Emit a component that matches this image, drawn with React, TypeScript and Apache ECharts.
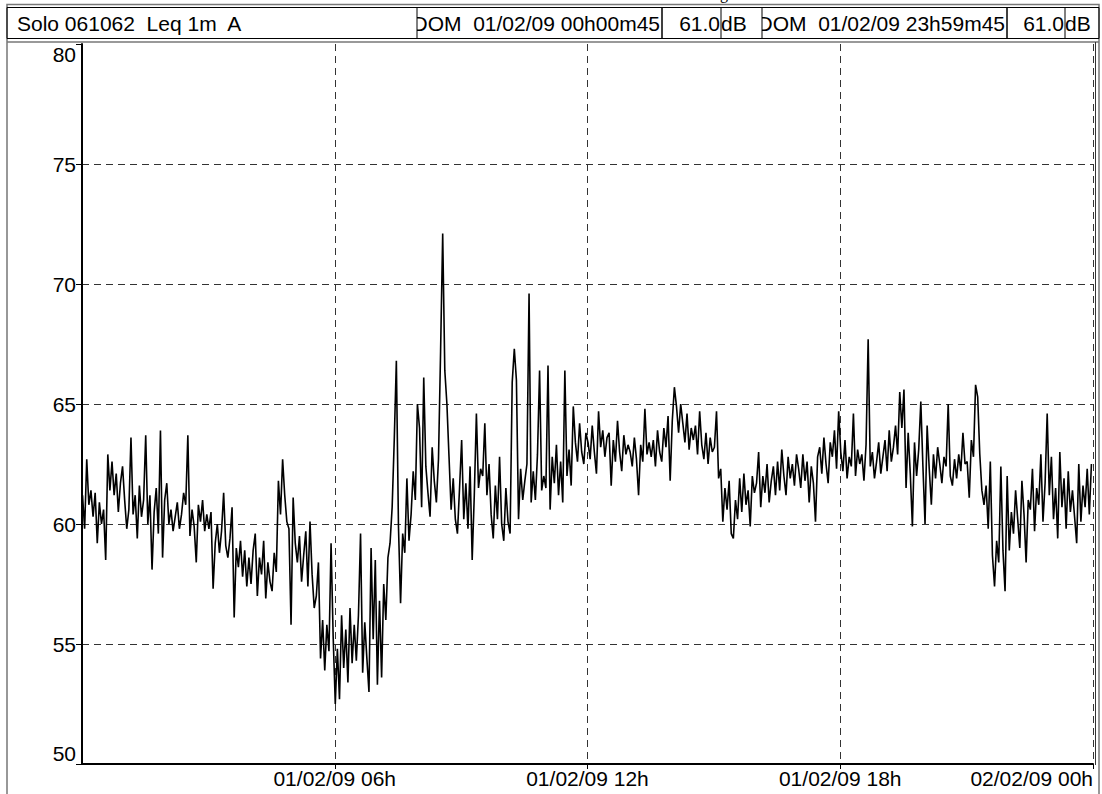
import React, { useEffect, useRef } from "react";
import * as echarts from "echarts";

// ---- Data: Leq 1m A levels (dB), one value every 3 minutes from 00h00m45 ----
const START_MIN = 0.75;
const STEP_MIN = 3;

const night00to06 = [
  61.2, 59.8, 62.7, 60.8, 61.4, 60.3, 61.3, 59.2, 60.9, 60.0,
  60.6, 58.5, 62.9, 61.4, 62.6, 61.2, 62.1, 60.5, 61.7, 62.4,
  61.0, 59.8, 60.6, 63.6, 60.4, 61.2, 59.4, 61.6, 60.3, 61.0,
  63.7, 60.0, 61.2, 58.1, 60.5, 61.5, 59.6, 63.9, 58.6, 61.0,
  61.7, 60.0, 60.6, 59.7, 60.3, 60.9, 59.8, 60.4, 61.3, 60.8,
  63.7, 59.5, 60.6, 59.9, 58.4, 60.8, 60.1, 61.0, 59.7, 60.4,
  59.8, 60.5, 57.3, 59.2, 60.0, 58.8, 59.7, 61.3, 59.1, 58.6,
  59.4, 60.7, 56.1, 59.0, 58.2, 59.3, 57.8, 58.9, 57.4, 58.6,
  57.5, 58.9, 59.6, 57.0, 58.6, 57.9, 59.3, 56.9, 58.4, 57.6,
  57.2, 58.8, 58.0, 61.8, 60.4, 62.7, 61.2, 60.1, 59.8, 55.8,
  61.1, 59.2, 58.4, 59.5, 57.6, 58.7, 59.7, 57.4, 60.1, 57.9,
  56.5, 57.0, 58.4, 54.4, 56.0, 53.9, 55.8, 54.7, 59.2, 55.3,
];

const morning06to12 = [
  52.5, 54.8, 52.7, 56.2, 54.0, 55.6, 53.4, 56.5, 54.2, 55.8,
  54.3, 56.2, 59.6, 53.8, 55.9, 54.4, 53.0, 59.0, 55.2, 58.5,
  53.3, 56.8, 53.6, 57.5, 56.0, 58.6, 59.2, 60.7, 63.5, 66.8,
  59.9, 56.7, 59.6, 58.8, 61.9, 59.3, 60.4, 62.2, 61.0, 65.0,
  64.0, 60.7, 66.1, 62.4, 61.3, 60.3, 63.2, 61.8, 60.9, 62.7,
  67.2, 72.1, 66.4, 65.0, 62.8, 60.6, 61.9, 60.2, 59.6, 61.5,
  63.5, 60.2, 61.7, 59.8, 62.4, 58.5, 61.2, 64.6, 61.5, 62.3,
  62.0, 64.2, 61.2, 62.5, 60.4, 59.4, 61.6, 60.2, 62.8, 60.0,
  59.3, 61.5, 60.1, 59.6, 65.9, 67.3, 66.0, 60.2, 62.3, 61.0,
  61.8, 62.5, 69.6, 60.9, 62.2, 61.0, 62.9, 66.4, 61.4, 62.0,
  61.5, 66.6, 60.6, 62.8, 61.7, 63.3, 61.2, 62.6, 60.9, 66.4,
  62.0, 63.1, 61.6, 64.9, 63.4, 62.6, 64.2, 63.0, 62.5, 63.8,
];

const afternoon12to18 = [
  63.4, 62.7, 64.1, 63.0, 62.1, 64.7, 63.2, 63.9, 62.8, 63.6,
  63.8, 61.6, 63.5, 62.6, 64.3, 63.0, 62.2, 63.7, 62.9, 63.3,
  63.0, 62.4, 63.6, 62.7, 61.2, 63.3, 62.6, 64.8, 62.9, 63.4,
  62.8, 63.5, 62.4, 63.9, 63.0, 62.6, 64.0, 63.2, 64.5, 61.8,
  64.3, 65.7, 64.9, 63.8, 65.0, 64.2, 63.4, 64.6, 63.1, 64.0,
  63.5, 64.1, 62.9, 64.7, 63.3, 62.7, 63.8, 62.5, 63.6, 63.0,
  63.2, 64.7, 61.9, 62.3, 60.1, 61.5, 60.6, 61.8, 59.6, 59.4,
  61.0, 60.2, 61.9, 60.5, 62.1, 60.8, 61.4, 59.9, 62.0, 61.3,
  61.7, 63.0, 60.7, 62.0, 61.3, 62.5, 60.9, 61.8, 62.4, 61.2,
  62.6, 61.4, 63.1, 62.0, 61.2, 62.8, 61.9, 62.5, 61.6, 62.9,
  62.3, 61.5, 62.9, 61.8, 62.6, 60.9, 62.4, 61.7, 60.1, 62.8,
  63.2, 62.1, 63.6, 62.5, 61.7, 63.4, 62.8, 63.9, 62.3, 64.7,
];

const evening18to24 = [
  63.0, 62.2, 63.5, 61.9, 62.8, 62.4, 64.6, 62.0, 63.1, 62.5,
  62.9, 61.8, 63.3, 67.7, 62.4, 63.0, 61.9, 62.6, 63.4, 62.1,
  62.8, 63.5, 62.2, 63.9, 62.6, 63.2, 64.1, 62.9, 65.5, 64.0,
  65.6, 61.5, 63.8, 62.1, 59.9, 63.4, 62.0, 63.1, 65.1, 62.4,
  60.0, 64.1, 62.3, 60.8, 62.9, 61.9, 63.2, 62.5, 61.7, 62.8,
  62.4, 65.0, 62.0, 61.6, 62.7, 61.9, 62.9, 62.2, 63.8, 62.5,
  62.6, 61.1, 63.5, 62.8, 65.8, 65.3, 62.9, 61.4, 60.8, 61.6,
  59.8, 62.6, 58.7, 57.4, 59.3, 58.4, 62.4, 58.9, 57.2, 62.0,
  58.9, 60.5, 59.6, 61.4, 60.2, 59.0, 61.8, 60.4, 58.4, 61.0,
  60.6, 62.3, 59.7, 61.5, 60.8, 62.9, 60.1, 61.7, 64.6, 61.2,
  62.8, 60.2, 61.5, 59.4, 63.0, 60.7, 61.9, 59.8, 62.2, 60.5,
  61.4, 60.3, 59.2, 62.5, 60.1, 61.6, 60.7, 62.3, 60.4, 62.5,
];

// x tick labels (minutes from 01/02/09 00h)
const xTickMinutes = [360, 720, 1080, 1440];
const xTickLabels = ["01/02/09 06h", "01/02/09 12h", "01/02/09 18h", "02/02/09 00h"];

// header texts
const headerTitle = "Solo 061062  Leq 1m  A";
const startStamp = "DOM  01/02/09 00h00m45";
const startLevel = "61.0";
const endStamp = "DOM  01/02/09 23h59m45";
const endLevel = "61.0";
const unit = "dB";

const FONT = '"Liberation Sans", Arial, Helvetica, sans-serif';

export default function App() {
  const ref = useRef<HTMLDivElement>(null);

  useEffect(() => {
    if (!ref.current) return;
    const chart = echarts.init(ref.current, undefined, { renderer: "svg" });
    const levels = [...night00to06, ...morning06to12, ...afternoon12to18, ...evening18to24];
    const data = levels.map((v, i) => [START_MIN + i * STEP_MIN, v]);

    const txt = (text: string, x: number, align: string) => ({
      type: "text",
      x,
      y: 23.5,
      z: 10,
      style: { text, fill: "#000", fontSize: 21, fontFamily: FONT, align, verticalAlign: "middle" },
    });
    const box = (x1: number, x2: number) => ({
      type: "rect",
      z: 12,
      shape: { x: x1, y: 7.5, width: x2 - x1, height: 31 },
      style: { fill: "none", stroke: "#000", lineWidth: 1 },
    });
    const cover = (x1: number, x2: number) => ({
      type: "rect",
      z: 11,
      shape: { x: x1, y: 8, width: x2 - x1, height: 30 },
      style: { fill: "#fff" },
    });

    chart.setOption({
      animation: false,
      backgroundColor: "#fff",
      grid: { left: 82, right: 9, top: 44, bottom: 30, containLabel: false },
      xAxis: {
        type: "value",
        min: 0,
        max: 1440,
        interval: 360,
        axisLine: { show: true, onZero: false, lineStyle: { color: "#000", width: 2 } },
        axisTick: { show: true, length: 5, lineStyle: { color: "#000", width: 1 } },
        axisLabel: {
          show: true,
          showMinLabel: false,
          alignMaxLabel: "right",
          color: "#000",
          fontSize: 21,
          fontFamily: FONT,
          margin: 4,
          formatter: (v: number) => {
            const k = xTickMinutes.indexOf(v);
            return k >= 0 ? xTickLabels[k] : "";
          },
        },
        splitLine: {
          show: true,
          showMinLine: false,
          lineStyle: { color: "#333", width: 1, type: [7, 5] },
        },
      },
      yAxis: {
        type: "value",
        min: 50,
        max: 80,
        interval: 5,
        axisLine: { show: true, onZero: false, lineStyle: { color: "#000", width: 2 } },
        axisTick: { show: true, length: 6, lineStyle: { color: "#000", width: 1 } },
        axisLabel: {
          color: "#000",
          fontSize: 21,
          fontFamily: FONT,
          margin: 6,
          verticalAlignMinLabel: "bottom",
          verticalAlignMaxLabel: "top",
        },
        splitLine: {
          show: true,
          showMinLine: false,
          showMaxLine: false,
          lineStyle: { color: "#333", width: 1, type: [7, 5] },
        },
      },
      series: [
        {
          type: "line",
          data,
          showSymbol: false,
          symbol: "none",
          lineStyle: { color: "#000", width: 1.6 },
          z: 5,
        },
      ],
      graphic: [
        // outer frame
        {
          type: "rect",
          z: 1,
          shape: { x: 7, y: 4.5, width: 1092, height: 800 },
          style: { fill: "none", stroke: "#777", lineWidth: 1.5 },
        },
        // plot frame top / right
        {
          type: "line",
          z: 1,
          shape: { x1: 7, y1: 42, x2: 1099, y2: 42 },
          style: { stroke: "#777", lineWidth: 1.5 },
        },
        {
          type: "line",
          z: 1,
          shape: { x1: 1095.5, y1: 42, x2: 1095.5, y2: 765 },
          style: { stroke: "#333", lineWidth: 1 },
        },
        // partial title descender above the page
        {
          type: "text",
          x: 724,
          y: -6.5,
          z: 10,
          style: { text: "g", fill: "#000", fontSize: 16, fontFamily: "Liberation Serif, serif", align: "center", verticalAlign: "middle" },
        },
        txt(headerTitle, 17, "left"),
        txt(startStamp, 660, "right"),
        txt(startLevel, 720, "right"),
        txt(unit, 721, "left"),
        txt(endStamp, 1005, "right"),
        txt(endLevel, 1064, "right"),
        txt(unit, 1065, "left"),
        cover(380, 417),
        cover(749, 762),
        { type: "rect", z: 12, shape: { x: 7, y: 7.5, width: 1092, height: 31 }, style: { fill: "none", stroke: "#000", lineWidth: 1 } },
        box(417, 662),
        box(662, 721),
        box(762, 1007),
        box(1007, 1065),
      ],
    });

    return () => chart.dispose();
  }, []);

  return (
    <div
      ref={ref}
      style={{ position: "fixed", left: 0, top: 0, width: 1102, height: 794, background: "#fff" }}
    />
  );
}
